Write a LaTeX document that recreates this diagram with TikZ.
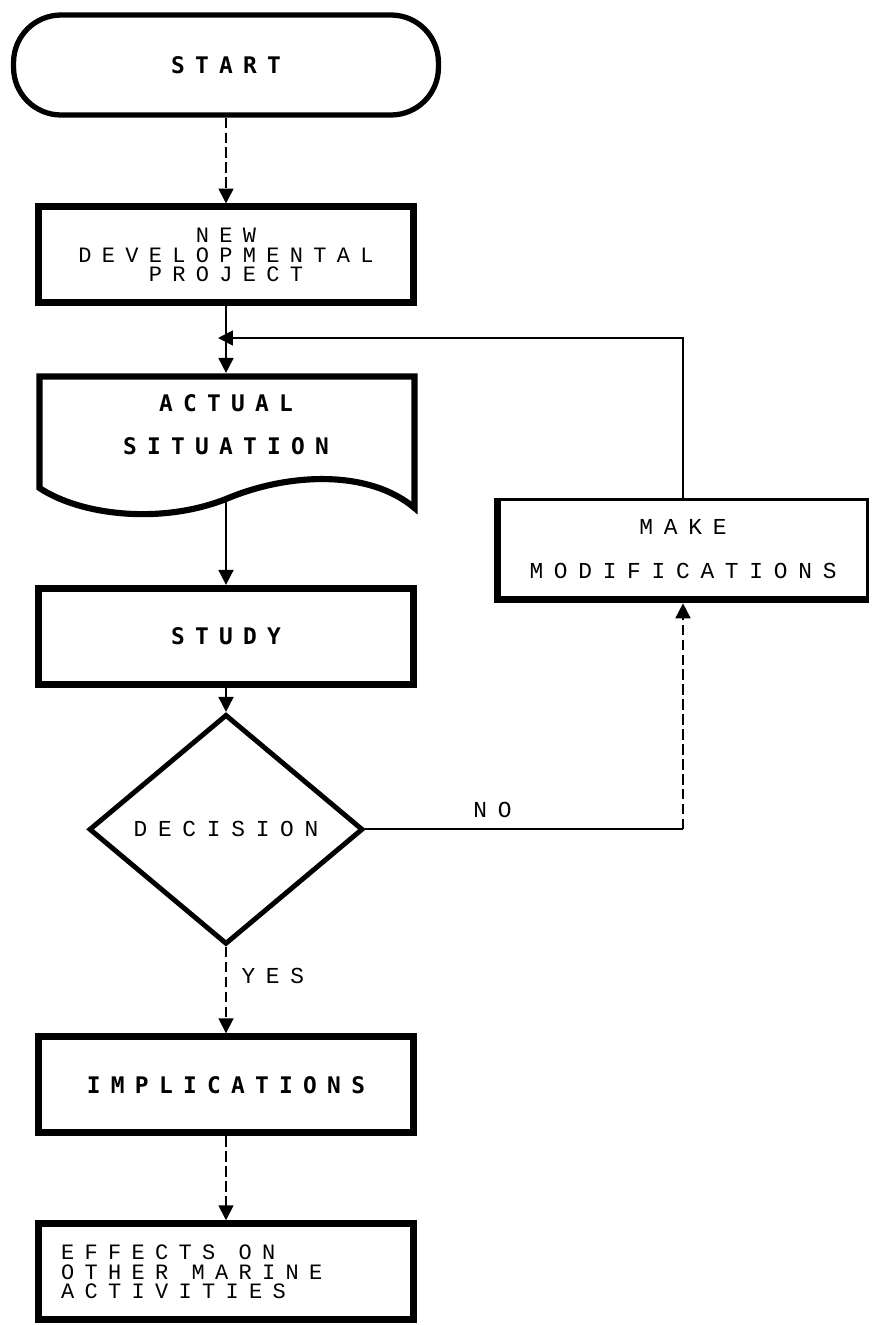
\documentclass[tikz,border=0pt]{standalone}
\usepackage{fontspec}
\usetikzlibrary{shapes.geometric,arrows.meta}
\newfontfamily\heavymono[LetterSpace=45]{DejaVu Sans Mono}
\newfontfamily\lightmono[LetterSpace=47]{Liberation Mono}
\newcommand\wordgap{\hspace{1.07em}}

\begin{document}
\begin{tikzpicture}[x=0.02cm, y=-0.02cm, >={Triangle[length=8.5pt,width=8.5pt]},
			flow/.style={->, line width=1pt},
			dashflow/.style={flow, dash pattern=on 6pt off 2.5pt},
			main box/.style={rectangle, draw, line width=4pt, align=center,
				minimum width=7.5cm, minimum height=1.92cm},
			terminal/.style={rectangle, draw, line width=3pt, rounded corners=0.95cm,
				minimum width=8.5cm, minimum height=2cm},
			bold text/.style={font=\heavymono\bfseries\fontsize{13}{24.4}\selectfont},
			light text/.style={font=\lightmono\fontsize{13}{25.5}\selectfont}]
			
			\useasboundingbox (0,0) rectangle (873,1325);
			
			\node[terminal, bold text] (start) at (226,65) {START};
			\node[main box, light text, font=\lightmono\fontsize{12.5}{11.2}\selectfont] (new) [below of=start, node distance=3.8cm] {NEW\\DEVELOPMENTAL\\PROJECT};
			\node[main box, draw=none, bold text] (actual) [below of=new, node distance=3.39cm] {ACTUAL\\SITUATION};
			\node[main box, bold text] (study) [below of=actual, node distance=4.24cm] {STUDY};
			\node[diamond, draw, line width=2.8pt, inner sep=0pt, minimum width=5.48cm, minimum height=4.6cm, light text] (decision) [below of=study, node distance=3.86cm] {DECISION};
			\node[main box, bold text] (impl) [below of=decision, node distance=5.11cm] {IMPLICATIONS};
			\node[main box, light text, font=\lightmono\fontsize{12.5}{11.2}\selectfont, text width=6.6cm, align=left] (effects) [below of=impl, node distance=3.74cm] {EFFECTS\wordgap ON\\OTHER\wordgap MARINE\\ACTIVITIES};
			\node[main box, line width=1.5pt, minimum width=7.37cm, minimum height=1.98cm, light text] (make) at (683,549) {MAKE\\MODIFICATIONS};
			
			% document outline with wavy bottom
			\draw[line width=3.5pt] (39.5,488) -- (39.5,376.5) -- (414.5,376.5) -- (414.5,508)
			.. controls (370,470) and (290,472) .. (226,499)
			.. controls (160,525) and (80,515) .. (39.5,488) -- cycle;
			% heavier left and bottom edges
			\draw[line width=4pt] (make.north west) -- (make.south west) -- (make.south east);
			
			\coordinate (wave) at (226,499);
			\coordinate (join) at (218,338);
			
			\draw[dashflow] (start) -- (new);
			\draw[flow] (new) -- (actual);
			\draw[flow] (make.north) |- (join);
			\draw[flow] (wave) -- (study);
			\draw[flow] (study) -- (decision);
			\draw[line width=1pt] (decision.east) -- node[pos=0.4, above=3pt, light text] {NO} (decision.east -| make.south) coordinate (turn);
			\draw[dashflow, shorten >=2pt] (turn) -- (make.south);
			\draw[dashflow] (decision) -- node[pos=0.34, right=5pt, light text] {YES} (impl);
			\draw[dashflow] (impl) -- (effects);
			
			\end{tikzpicture}
\end{document}
